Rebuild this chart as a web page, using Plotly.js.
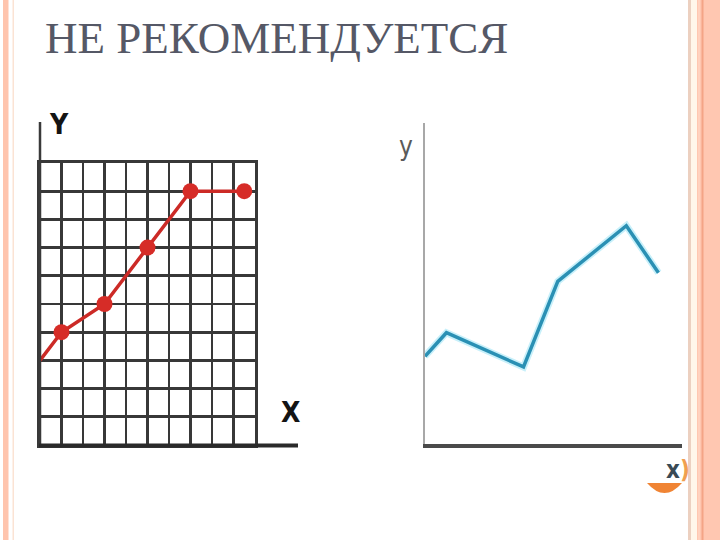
<!DOCTYPE html>
<html>
<head>
<meta charset="utf-8">
<script src="https://cdn.plot.ly/plotly-3.0.1.min.js"></script>
<style>html,body{margin:0;padding:0;background:#fff;}#chart{width:720px;height:540px;}</style>
</head>
<body>
<div id="chart"></div>
<script>
// Left chart (grid, red line)
var leftX = [0, 1, 3, 5, 7, 9.5];
var leftY = [3, 4, 5, 7, 9, 9];
var leftMarkerShown = [false, true, true, true, true, true];
// Right chart (blue line)
var rightX = [0, 1, 4.6, 6.2, 9.4, 10.9];
var rightY = [4.1, 5.2, 3.6, 7.6, 10.2, 8.0];
// Texts
var titleText = 'НЕ РЕКОМЕНДУЕТСЯ';
var leftXLabel = 'X', leftYLabel = 'Y';
var rightXLabel = 'x', rightYLabel = 'y';

var W = 720, H = 540;
function px(x){ return x / W; }
function py(y){ return 1 - y / H; }

var traces = [
  {
    x: leftX, y: leftY, xaxis: 'x', yaxis: 'y', type: 'scatter', mode: 'lines+markers',
    line: {color: '#cc2a26', width: 3.5},
    marker: {color: '#d62c27', opacity: 1, line: {width: 0},
             size: leftMarkerShown.map(function(s){ return s ? 16 : 0; })},
    opacity: 1, cliponaxis: false, hoverinfo: 'skip'
  },
  {
    x: rightX, y: rightY, xaxis: 'x2', yaxis: 'y2', type: 'scatter', mode: 'lines',
    line: {color: '#c8f0fa', width: 7}, hoverinfo: 'skip', cliponaxis: false
  },
  {
    x: rightX, y: rightY, xaxis: 'x2', yaxis: 'y2', type: 'scatter', mode: 'lines',
    line: {color: '#2a90b4', width: 3.5}, hoverinfo: 'skip', cliponaxis: false
  }
];

var gridAxis = {
  range: [0, 10], dtick: 1, tick0: 0, showgrid: true, gridcolor: '#383838', gridwidth: 2.8,
  showline: true, mirror: true, linecolor: '#383838', linewidth: 2.8,
  zeroline: false, showticklabels: false, ticks: '', fixedrange: true
};

var labelFont = '"Liberation Sans Narrow", "Arial Narrow", "DejaVu Sans Condensed", sans-serif';

var layout = {
  width: W, height: H,
  margin: {l: 0, r: 0, t: 0, b: 0},
  paper_bgcolor: '#ffffff', plot_bgcolor: 'rgba(0,0,0,0)',
  showlegend: false,
  xaxis: Object.assign({}, gridAxis, {domain: [px(40), px(255)], anchor: 'y'}),
  yaxis: Object.assign({}, gridAxis, {domain: [py(445), py(163)], anchor: 'x'}),
  xaxis2: {domain: [px(425), px(682)], anchor: 'y2', range: [0, 12], showgrid: false, zeroline: false,
           showline: true, linecolor: '#4a4a4a', linewidth: 3.5, showticklabels: false, ticks: ''},
  yaxis2: {domain: [py(444), py(123)], anchor: 'x2', range: [0, 15], showgrid: false, zeroline: false,
           showline: true, linecolor: '#a8a8a8', linewidth: 2.5, showticklabels: false, ticks: ''},
  shapes: [
    // slide border left
    {type: 'rect', xref: 'paper', yref: 'paper', x0: px(3), x1: px(8.5), y0: 0, y1: 1, fillcolor: '#ffc4ad', line: {width: 0}, layer: 'below'},
    {type: 'rect', xref: 'paper', yref: 'paper', x0: px(12.5), x1: px(14), y0: 0, y1: 1, fillcolor: '#fbe3d4', line: {width: 0}, layer: 'below'},
    // slide border right
    {type: 'rect', xref: 'paper', yref: 'paper', x0: px(688), x1: px(691), y0: 0, y1: 1, fillcolor: '#ecd0c0', line: {width: 0}, layer: 'below'},
    {type: 'rect', xref: 'paper', yref: 'paper', x0: px(691), x1: px(697), y0: 0, y1: 1, fillcolor: '#fff6ea', line: {width: 0}, layer: 'below'},
    {type: 'rect', xref: 'paper', yref: 'paper', x0: px(697), x1: px(720), y0: 0, y1: 1, fillcolor: '#ffc7b1', line: {width: 0}, layer: 'below'},
    {type: 'rect', xref: 'paper', yref: 'paper', x0: px(701.5), x1: px(703.5), y0: 0, y1: 1, fillcolor: '#f4a486', line: {width: 0}, layer: 'below'},
    {type: 'rect', xref: 'paper', yref: 'paper', x0: px(698.5), x1: px(699.5), y0: 0, y1: 1, fillcolor: '#ffdccb', line: {width: 0}, layer: 'below'},
    // left chart extended axis lines
    {type: 'line', xref: 'paper', yref: 'paper', x0: px(40), x1: px(40), y0: py(446), y1: py(122), line: {color: '#3a3a3a', width: 2.5}},
    {type: 'line', xref: 'paper', yref: 'paper', x0: px(39), x1: px(298), y0: py(445.5), y1: py(445.5), line: {color: '#2a2a2a', width: 3.8}},
    // orange semicircle decoration
    {type: 'path', xref: 'paper', yref: 'paper',
     path: 'M ' + px(647) + ',' + py(483) + ' L ' + px(682) + ',' + py(483) + ' Q ' + px(664.5) + ',' + py(503) + ' ' + px(647) + ',' + py(483) + ' Z',
     fillcolor: '#f08434', line: {width: 0}}
  ],
  annotations: [
    {text: titleText, xref: 'paper', yref: 'paper', x: px(43), y: py(38), xanchor: 'left', yanchor: 'middle',
     showarrow: false, font: {family: '"Liberation Serif", "DejaVu Serif", serif', size: 45, color: '#555866'}},
    {text: leftYLabel, xref: 'paper', yref: 'paper', x: px(58.5), y: py(124), xanchor: 'center', yanchor: 'middle',
     showarrow: false, font: {family: labelFont, size: 28, color: '#141414', weight: 'bold'}},
    {text: leftXLabel, xref: 'paper', yref: 'paper', x: px(290.5), y: py(412), xanchor: 'center', yanchor: 'middle',
     showarrow: false, font: {family: labelFont, size: 28, color: '#141414', weight: 'bold'}},
    {text: rightYLabel, xref: 'paper', yref: 'paper', x: px(406), y: py(146), xanchor: 'center', yanchor: 'middle',
     showarrow: false, font: {family: labelFont, size: 26, color: '#5a5a5a'}},
    {text: rightXLabel + '<span style="color:#f0a050">)</span>', xref: 'paper', yref: 'paper', x: px(678), y: py(470), xanchor: 'center', yanchor: 'middle',
     showarrow: false, font: {family: labelFont, size: 24, color: '#3a4a55', weight: 'bold'}}
  ]
};

Plotly.newPlot('chart', traces, layout, {staticPlot: true, displayModeBar: false});
</script>
</body>
</html>
